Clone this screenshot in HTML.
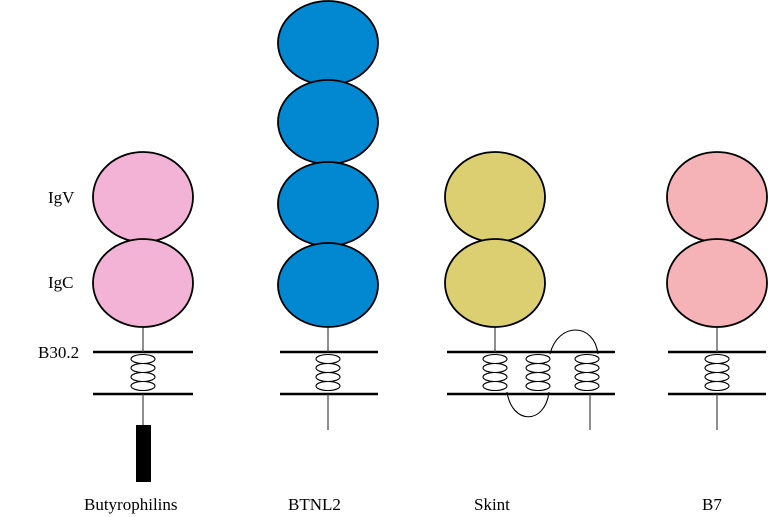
<!DOCTYPE html>
<html><head><meta charset="utf-8"><style>body{margin:0;background:#fff}svg{display:block}</style></head><body>
<svg width="768" height="517" viewBox="0 0 768 517" xmlns="http://www.w3.org/2000/svg" font-family="Liberation Serif, serif" font-size="17">
<defs>
<g id="coil" fill="none" stroke="#000" stroke-width="1.1">
<ellipse cx="0" cy="-14" rx="12" ry="4.5"/>
<ellipse cx="0" cy="-5" rx="12" ry="4.5"/>
<ellipse cx="0" cy="4" rx="12" ry="4.5"/>
<ellipse cx="0" cy="13" rx="12" ry="4.5"/>
</g>
</defs>
<g fill="#000">
<text x="48" y="203">IgV</text>
<text x="48" y="288">IgC</text>
<text x="38" y="358">B30.2</text>
<text x="84" y="510">Butyrophilins</text>
<text x="288" y="510">BTNL2</text>
<text x="474" y="510">Skint</text>
<text x="702" y="510">B7</text>
</g>
<g stroke="#000" stroke-width="2.5">
<line x1="93" y1="352" x2="193" y2="352"/><line x1="93" y1="394" x2="193" y2="394"/>
<line x1="280" y1="352" x2="378" y2="352"/><line x1="280" y1="394" x2="378" y2="394"/>
<line x1="447" y1="352" x2="615" y2="352"/><line x1="447" y1="394" x2="615" y2="394"/>
<line x1="668" y1="352" x2="766" y2="352"/><line x1="668" y1="394" x2="766" y2="394"/>
</g>
<g stroke="#444" stroke-width="1.2">
<line x1="143" y1="327" x2="143" y2="352"/><line x1="143" y1="394" x2="143" y2="425"/>
<line x1="328" y1="327" x2="328" y2="352"/><line x1="328" y1="394" x2="328" y2="430"/>
<line x1="495" y1="327" x2="495" y2="352"/><line x1="590" y1="394" x2="590" y2="430"/>
<line x1="717" y1="327" x2="717" y2="352"/><line x1="717" y1="394" x2="717" y2="430"/>
</g>
<rect x="136" y="425" width="15" height="57" fill="#000"/>
<use href="#coil" x="143" y="373"/>
<use href="#coil" x="328" y="373"/>
<use href="#coil" x="495" y="373"/>
<use href="#coil" x="538" y="373"/>
<use href="#coil" x="587" y="373"/>
<use href="#coil" x="717" y="373"/>
<path d="M507 392 C512 425 545 425 549 392" fill="none" stroke="#000" stroke-width="1.1"/>
<path d="M550 354 C558 322 594 322 598 354" fill="none" stroke="#000" stroke-width="1.1"/>
<g stroke="#000" stroke-width="1.8">
<ellipse cx="143" cy="197" rx="50" ry="45" fill="#f3b3d6"/>
<ellipse cx="143" cy="283" rx="50" ry="44" fill="#f3b3d6"/>
<ellipse cx="328" cy="43" rx="50" ry="42" fill="#0288d1"/>
<ellipse cx="328" cy="122" rx="50" ry="42" fill="#0288d1"/>
<ellipse cx="328" cy="204" rx="50" ry="42" fill="#0288d1"/>
<ellipse cx="328" cy="285" rx="50" ry="42" fill="#0288d1"/>
<ellipse cx="495" cy="197" rx="50" ry="45" fill="#dbcf72"/>
<ellipse cx="495" cy="283" rx="50" ry="44" fill="#dbcf72"/>
<ellipse cx="717" cy="197" rx="50" ry="45" fill="#f6b3b7"/>
<ellipse cx="717" cy="283" rx="50" ry="44" fill="#f6b3b7"/>
</g>
</svg>
</body></html>
